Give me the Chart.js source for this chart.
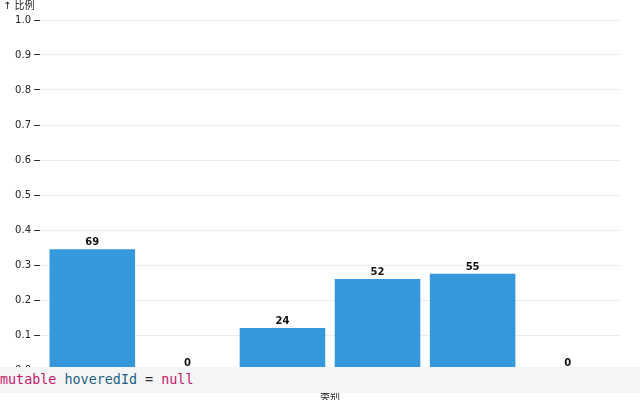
<!DOCTYPE html>
<html>
<head>
<meta charset="utf-8">
<script src="https://cdn.jsdelivr.net/npm/chart.js@4"></script>
<style>
  html, body { margin: 0; padding: 0; background: #fff; }
  #wrap { position: relative; width: 640px; height: 400px; overflow: hidden; }
  #cell {
    position: absolute; left: 0; top: 367px; width: 640px; height: 26px;
    background: #f5f5f5; font: 13.4px "DejaVu Sans Mono", monospace;
    line-height: 26px; white-space: pre; color: #333;
  }
  .kw { color: #c4186e; }
  .id { color: #1d5f82; }
</style>
</head>
<body>
<div id="wrap">
  <canvas id="chart" width="640" height="400"></canvas>
  <div id="cell"><span class="kw">mutable</span> <span class="id">hoveredId</span> = <span class="kw">null</span></div>
</div>
<script>
  // 数据
  const categories = ['A', 'B', 'C', 'D', 'E', 'F'];
  const counts     = [69, 0, 24, 52, 55, 0];
  const shares     = [0.345, 0, 0.12, 0.26, 0.275, 0];
  const yTicks     = [0, 0.1, 0.2, 0.3, 0.4, 0.5, 0.6, 0.7, 0.8, 0.9, 1.0];

  const font = '"DejaVu Sans", "Noto Sans CJK SC", sans-serif';

  const labels = {
    id: 'labels',
    afterDatasetsDraw(chart){
      const ctx = chart.ctx;
      const meta = chart.getDatasetMeta(0);
      ctx.save();
      ctx.font = 'bold 10px ' + font;
      ctx.fillStyle = '#111';
      ctx.textAlign = 'center';
      ctx.textBaseline = 'alphabetic';
      meta.data.forEach((bar, i) => {
        ctx.fillText(String(counts[i]), bar.x, bar.y - 4);
      });
      // y 轴标题
      ctx.font = '10px ' + font;
      ctx.textAlign = 'left';
      ctx.textBaseline = 'middle';
      ctx.fillStyle = '#222';
      ctx.fillText('↑ 比例', 3, 6);
      ctx.restore();
    }
  };

  new Chart(document.getElementById('chart'), {
    type: 'bar',
    data: {
      datasets: [{
        data: shares.map((v, i) => ({ x: i, y: v })),
        backgroundColor: '#3498db',
        barPercentage: 0.9,
        categoryPercentage: 1
      }]
    },
    options: {
      responsive: false,
      animation: false,
      layout: { padding: { top: 20, right: 20, bottom: 0, left: 0 } },
      plugins: { legend: { display: false }, tooltip: { enabled: false } },
      scales: {
        x: {
          type: 'linear', min: -0.55, max: 5.55, offset: false,
          afterFit: s => { s.height = 30; },
          grid: { display: false },
          border: { display: false },
          afterBuildTicks: s => { s.ticks = categories.map((c, i) => ({ value: i })); },
          ticks: { font: { size: 10, family: font }, color: '#222', callback: v => categories[v] },
          title: { display: true, text: '类别', font: { size: 10, family: font }, color: '#222', padding: { top: 0, bottom: -3 } }
        },
        y: {
          min: 0, max: 1,
          afterFit: s => { s.width = 40; },
          afterBuildTicks: s => { s.ticks = yTicks.map(v => ({ value: v })); },
          border: { display: false },
          grid: { color: 'rgba(0,0,0,0.07)', tickColor: '#333', tickLength: 6 },
          ticks: { padding: 3, font: { size: 10, family: font }, color: '#222', callback: v => v.toFixed(1) }
        }
      }
    },
    plugins: [labels]
  });
</script>
</body>
</html>
